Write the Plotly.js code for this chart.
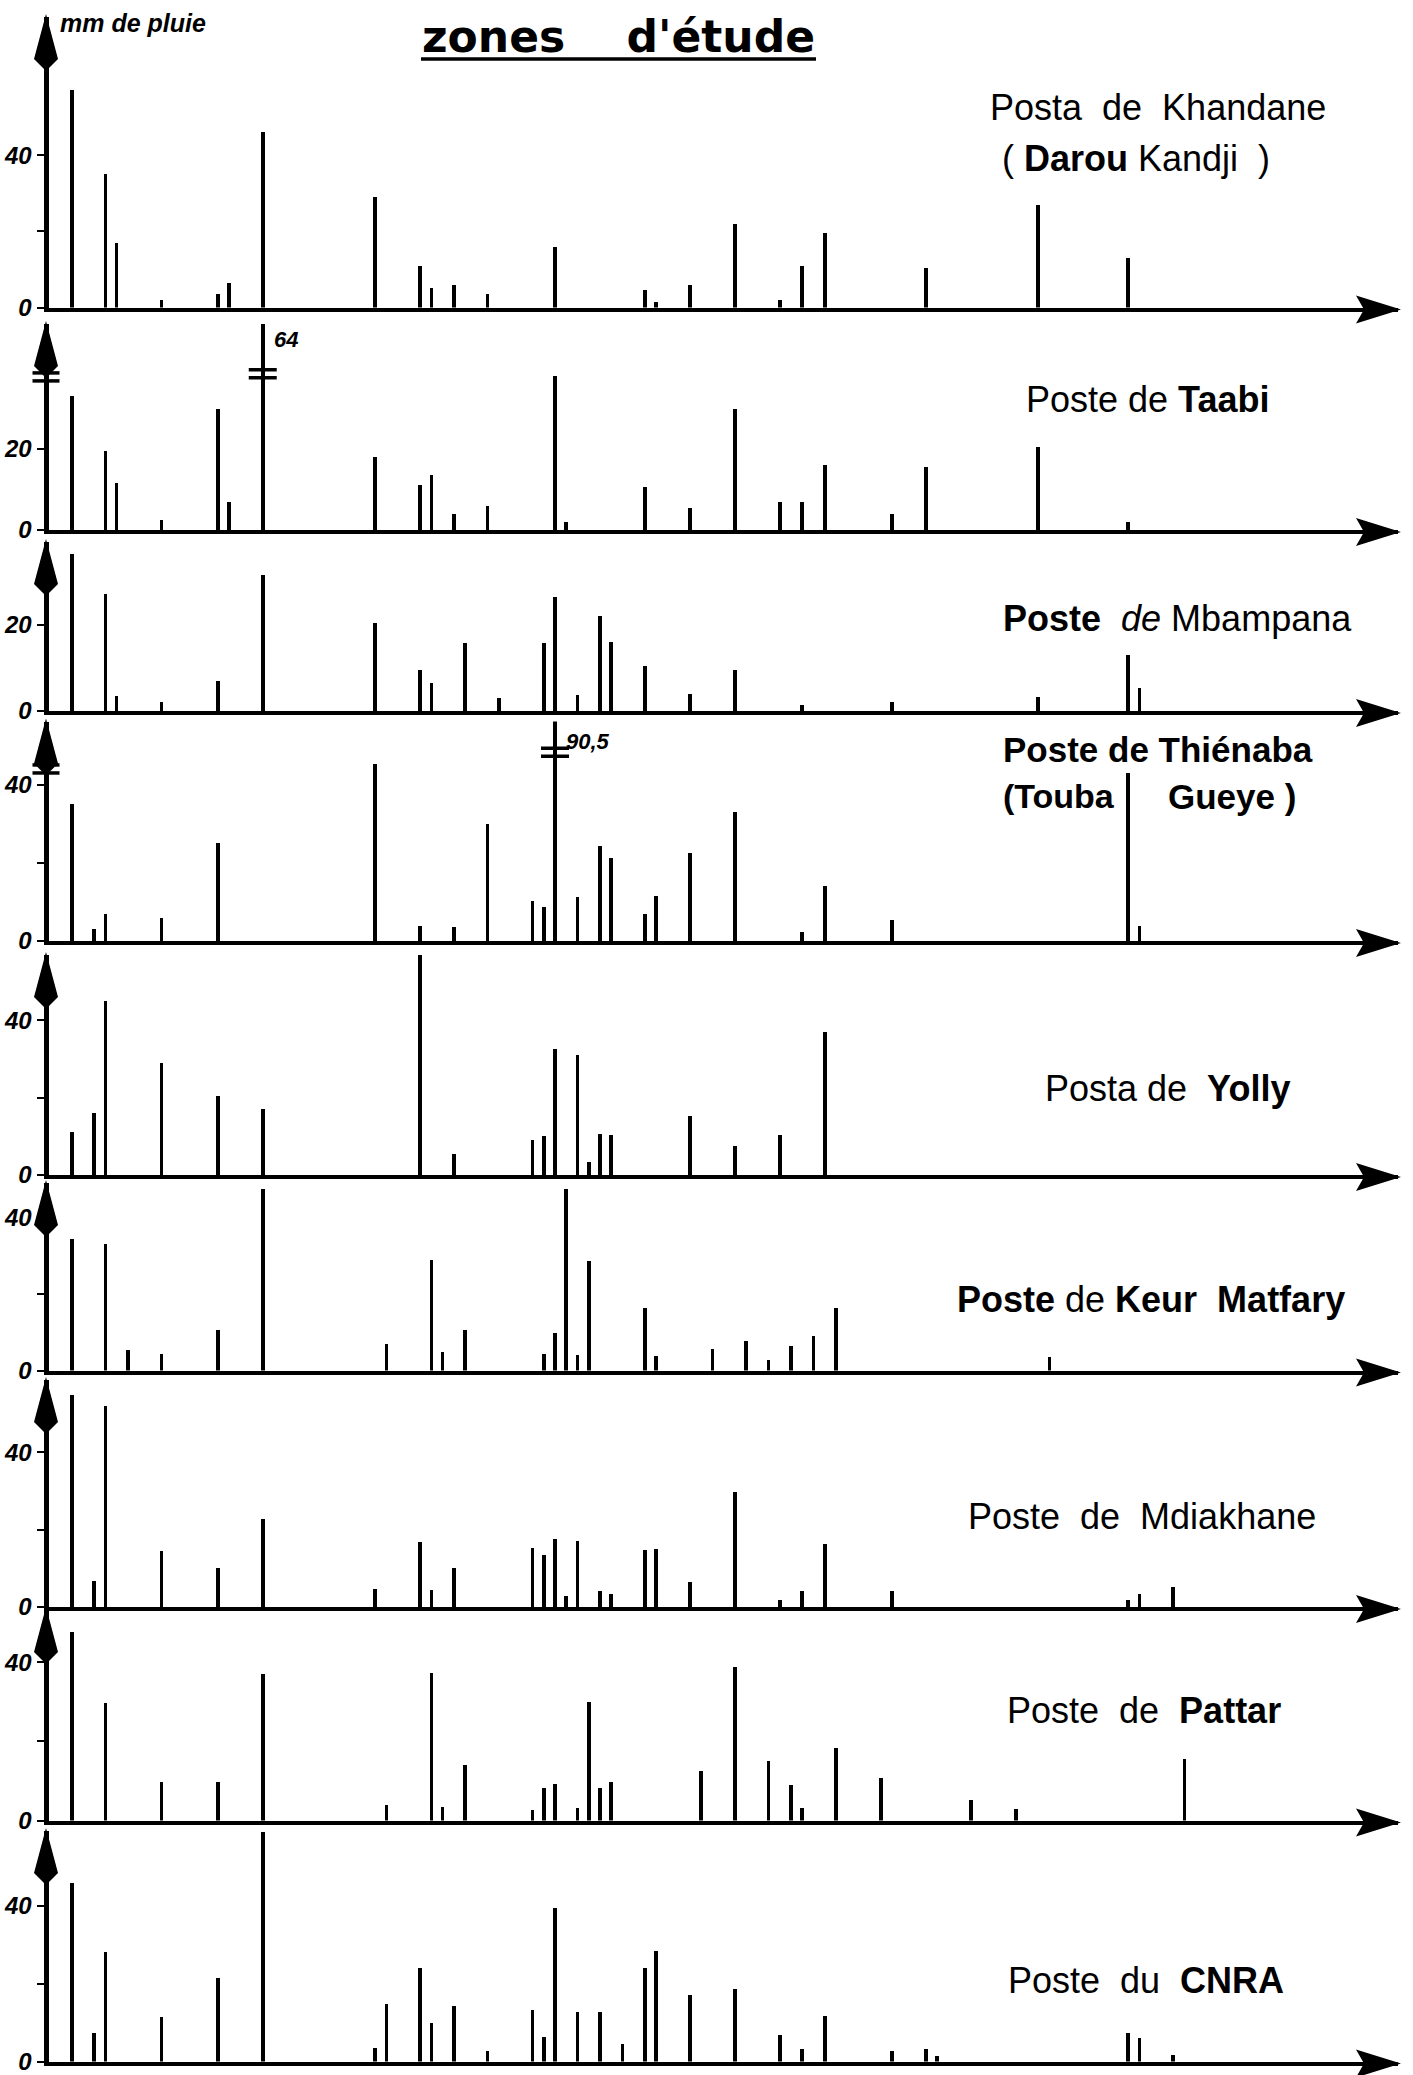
<!DOCTYPE html>
<html><head><meta charset="utf-8">
<script src="https://cdn.plot.ly/plotly-3.0.1.min.js"></script>
<style>html,body{margin:0;padding:0;background:#fff;}#chart{width:1413px;height:2075px;}</style>
</head><body><div id="chart"></div>
<script>
// ---------- DATA (day index of the season, rainfall in mm) ----------
const stationNames = ["Khandane","Taabi","Mbampana","Thiénaba","Yolly","Keur Matfary","Mdiakhane","Pattar","CNRA"];

const khandaneDays = [2,5,6,10,15,16,19,29,33,34,36,39,45,53,54,57,61,65,67,69,78,88,96];
const khandaneMm   = [57,35,17,2,3.5,6.5,46,29,11,5,6,3.5,16,4.5,1.5,6,22,2,11,19.5,10.5,27,13];

const taabiDays = [2,5,6,10,15,16,19,29,33,34,36,39,45,46,53,57,61,65,67,69,75,78,88,96];
const taabiMm   = [33,19.5,11.5,2.5,30,7,64,18,11,13.5,4,6,38,2,10.5,5.5,30,7,7,16,4,15.5,20.5,2];

const mbampanaDays = [2,5,6,10,15,19,29,33,34,37,40,44,45,47,49,50,53,57,61,67,75,88,96,97];
const mbampanaMm   = [36.5,27.3,3.5,2,7,31.7,20.5,9.6,6.4,15.8,3,15.9,26.5,3.8,22,16,10.5,4,9.5,1.5,2,3.2,13,5.4];

const thienabaDays = [2,4,5,10,15,29,33,36,39,43,44,45,47,49,50,53,54,57,61,67,69,75,96,97];
const thienabaMm   = [35,3,7,6,25,45.3,3.8,3.7,29.8,10.2,8.7,90.5,11.3,24.4,21.3,6.8,11.5,22.6,33,2.4,14,5.3,43,3.8];

const yollyDays = [2,4,5,10,15,19,33,36,43,44,45,47,48,49,50,57,61,65,69];
const yollyMm   = [11,16,45,29,20.5,17,57,5.5,9,10,32.5,31,3.4,10.5,10.4,15.3,7.5,10.3,37];

const keurDays = [2,5,7,10,15,19,30,34,35,37,44,45,46,47,48,53,54,59,62,64,66,68,70,89];
const keurMm   = [34.4,33,5.3,4.3,10.7,47.5,7,28.9,4.8,10.7,4.3,9.8,47.4,4,28.5,16.2,3.7,5.7,7.6,2.8,6.4,9.1,16.4,3.4];

const mdiakhaneDays = [2,4,5,10,15,19,29,33,34,36,43,44,45,46,47,49,50,53,54,57,61,65,67,69,75,96,97,100];
const mdiakhaneMm   = [54.8,6.6,52,14.4,10.2,22.7,4.7,16.8,4.5,10.2,15.2,13.5,17.6,2.8,17.1,4.2,3.4,14.8,15,6.4,29.8,1.9,4.2,16.3,4.2,1.9,3.4,5.2];

const pattarDays = [2,5,10,15,19,30,34,35,37,43,44,45,47,48,49,50,58,61,64,66,67,70,74,82,86,101];
const pattarMm   = [47.5,29.7,9.8,9.6,37.1,3.8,37.3,3.4,14.1,2.7,8.1,9.2,3.2,29.9,8.1,9.6,12.5,38.7,15.1,8.9,3.2,18.4,10.8,5.3,2.8,15.5];

const cnraDays = [2,4,5,10,15,19,29,30,33,34,36,39,43,44,45,47,49,51,53,54,57,61,65,67,69,75,78,79,96,97,100];
const cnraMm   = [45.7,7.3,28,11.3,21.5,58.8,3.4,14.7,24.1,9.8,14.3,2.8,13.2,6.2,39.3,12.8,12.6,4.4,23.9,28.4,17.1,18.7,6.8,3.2,11.7,2.7,3.2,1.5,7.2,5.9,1.6];

const tickLabelsMain = ["0","","40"];
const tickValsMain = [0,20,40];
const tickLabels20 = ["0","20"];
const tickVals20 = [0,20];

// ---------- LAYOUT GEOMETRY ----------
const W = 1413, H = 2075;
const AXIS_X = 48.5, DAY0 = 49.2, DAYPX = 11.24, XTIP = 1398;
const xMin = (AXIS_X - DAY0) / DAYPX;
const xMax = (XTIP - DAY0) / DAYPX;

const panels = [
  {days:khandaneDays, mm:khandaneMm, B:307.5, T:17,   k:3.81, tv:tickValsMain, tt:tickLabelsMain},
  {days:taabiDays,    mm:taabiMm,    B:530,   T:324,  k:4.05, tv:tickVals20,   tt:tickLabels20, brk:{axis:37.8, bar:38.6, dy:-1}},
  {days:mbampanaDays, mm:mbampanaMm, B:711,   T:542,  k:4.3,  tv:tickVals20,   tt:tickLabels20},
  {days:thienabaDays, mm:thienabaMm, B:941,   T:721.5,k:3.91, tv:tickValsMain, tt:tickLabelsMain, brk:{axis:44, bar:48.3, dy:-6}},
  {days:yollyDays,    mm:yollyMm,    B:1175,  T:955,  k:3.87, tv:tickValsMain, tt:tickLabelsMain},
  {days:keurDays,     mm:keurMm,     B:1370.5,T:1183, k:3.83, tv:tickValsMain, tt:tickLabelsMain},
  {days:mdiakhaneDays,mm:mdiakhaneMm,B:1607,  T:1380, k:3.87, tv:tickValsMain, tt:tickLabelsMain},
  {days:pattarDays,   mm:pattarMm,   B:1820.5,T:1610, k:3.96, tv:tickValsMain, tt:tickLabelsMain},
  {days:cnraDays,     mm:cnraMm,     B:2061.5,T:1831, k:3.9,  tv:tickValsMain, tt:tickLabelsMain}
];

const FONT = "Liberation Sans, Arial, sans-serif";
const data = [], shapes = [], annotations = [];
const layout = {
  width:W, height:H, margin:{l:0,r:0,t:0,b:0,pad:0},
  paper_bgcolor:"#ffffff", plot_bgcolor:"rgba(0,0,0,0)",
  showlegend:false, hovermode:false, bargap:0
};
const py = v => 1 - v / H;   // page pixel (from top) -> paper y
const px = v => v / W;       // page pixel -> paper x

panels.forEach((p, i) => {
  const n = i === 0 ? "" : String(i + 1);
  const ymax = (p.B - p.T) / p.k;
  data.push({
    type:"bar", x:p.days, y:p.mm, xaxis:"x"+n, yaxis:"y"+n,
    width:0.33, marker:{color:"#000", line:{width:0}}, hoverinfo:"skip", cliponaxis:true
  });
  layout["xaxis"+n] = {
    domain:[px(AXIS_X), px(XTIP)], range:[xMin, xMax], anchor:"y"+n,
    showline:true, linewidth:4, linecolor:"#000", showgrid:false, zeroline:false,
    ticks:"", showticklabels:false, fixedrange:true, automargin:false
  };
  layout["yaxis"+n] = {
    domain:[py(p.B), py(p.T)], range:[0, ymax], anchor:"x"+n,
    showline:true, linewidth:5, linecolor:"#000", showgrid:false, zeroline:false,
    ticks:"outside", ticklen:7, tickwidth:2, tickcolor:"#000",
    tickmode:"array", tickvals:p.tv, ticktext:p.tt,
    tickfont:{family:FONT, size:24, color:"#000", weight:"bold", style:"italic"},
    fixedrange:true, automargin:false
  };
  // x-axis arrowhead (paper-referenced so it is not clipped)
  shapes.push({type:"path", xref:"paper", yref:"paper", xsizemode:"pixel", ysizemode:"pixel",
    xanchor:px(XTIP), yanchor:py(p.B), path:"M 3,-2 L -42,12 L -34,-2 L -42,-16 Z",
    fillcolor:"#000", line:{width:0}, layer:"above"});
  // y-axis arrowhead
  shapes.push({type:"path", xref:"paper", yref:"paper", xsizemode:"pixel", ysizemode:"pixel",
    xanchor:px(AXIS_X), yanchor:py(p.T), path:"M -2.5,3 L -14.5,-42 L -2.5,-54 L 9.5,-42 Z",
    fillcolor:"#000", line:{width:0}, layer:"above"});

  if (p.brk) {
    let im = 0; p.mm.forEach((v,j)=>{ if (v > p.mm[im]) im = j; });
    const bigDay = p.days[im], bigVal = p.mm[im];
    [4,-4].forEach(dy => {
      shapes.push({type:"line", xref:"paper", yref:"paper", xsizemode:"pixel", ysizemode:"pixel",
        xanchor:px(AXIS_X), yanchor:py(p.B - p.brk.axis*p.k), x0:-16, x1:11, y0:dy, y1:dy,
        line:{color:"#000", width:3.5}, layer:"above"});
      shapes.push({type:"line", xref:"x"+n, yref:"y"+n, xsizemode:"pixel", ysizemode:"pixel",
        xanchor:bigDay, yanchor:p.brk.bar, x0:-14, x1:14, y0:dy, y1:dy,
        line:{color:"#000", width:3.5}, layer:"above"});
    });
    annotations.push({xref:"x"+n, yref:"y"+n, x:bigDay, y:ymax, xanchor:"left", yanchor:"top",
      xshift:9, yshift:p.brk.dy, showarrow:false,
      text:String(bigVal).replace(".", ","),
      font:{family:FONT, size:22, color:"#000", weight:"bold", style:"italic"}});
  }
});

function lab(text, xc, yc, size, anchor, family) {
  annotations.push({xref:"paper", yref:"paper", x:px(xc), y:py(yc), xanchor:anchor||"center", yanchor:"middle",
    text:text, showarrow:false, align:"left",
    font:{family:family||FONT, size:size, color:"#000"}});
}
const s = "\u00a0";

// Title and y-unit
lab("<b>zones" + s+s+s+s + "d'étude</b>", 618, 37, 44, "center", "DejaVu Sans, Liberation Sans, sans-serif");
shapes.push({type:"line", xref:"paper", yref:"paper", x0:px(421), x1:px(816), y0:py(59), y1:py(59), line:{color:"#000", width:3.5}});
lab("<b><i>mm de pluie</i></b>", 58, 23, 25, "left");

// Station labels
lab("Posta"+s+s+"de"+s+s+"Khandane", 1158, 108, 36);
lab("("+s+"<b>Darou</b> Kandji"+s+s+")", 1136, 159, 36);
lab("Poste de <b>Taabi</b>", 1147, 400, 36);
lab("<b>Poste</b>"+s+s+"<i>de</i> Mbampana", 1177, 618, 36);
lab("<b>Poste de Thiénaba</b>", 1001, 749, 35, "left");
lab("<b>(Touba</b>", 1001, 796, 34, "left");
lab("<b>Gueye )</b>", 1166, 796, 35, "left");
lab("Posta de "+s+"<b>Yolly</b>", 1167, 1088, 36);
lab("<b>Poste</b> de <b>Keur"+s+s+"Matfary</b>", 1151, 1299, 36);
lab("Poste"+s+s+"de"+s+s+"Mdiakhane", 1142, 1516, 36);
lab("Poste"+s+s+"de"+s+s+"<b>Pattar</b>", 1144, 1710, 36);
lab("Poste"+s+s+"du"+s+s+"<b>CNRA</b>", 1146, 1980, 36);

layout.shapes = shapes;
layout.annotations = annotations;

Plotly.newPlot("chart", data, layout, {staticPlot:true, displayModeBar:false});
</script>
</body></html>
